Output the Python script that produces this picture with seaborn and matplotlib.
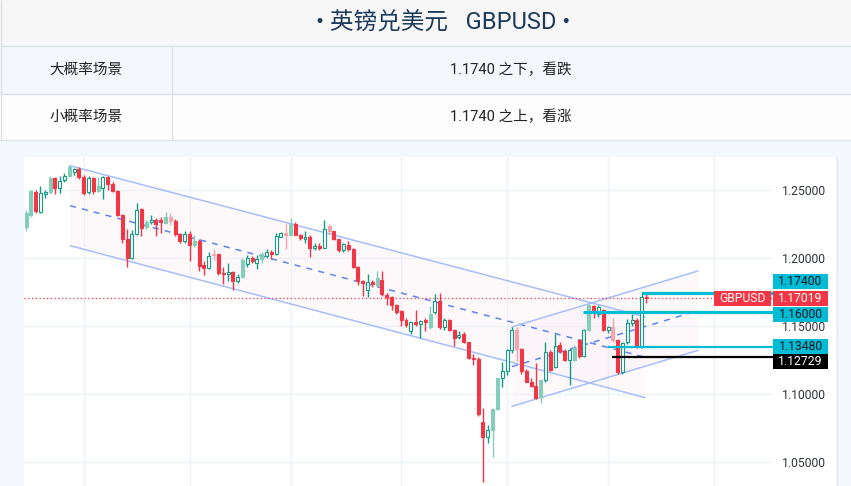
import numpy as np
import pandas as pd
import matplotlib
matplotlib.use("Agg")
import matplotlib.pyplot as plt
import matplotlib.transforms as mtransforms
from matplotlib.patches import Rectangle
import seaborn as sns

# GBPUSD daily candles, weekdays 2022-05-16 .. 2022-11-11
dates = pd.bdate_range("2022-05-16", "2022-11-11")
opens = [1.2225, 1.2315, 1.2485, 1.2335, 1.2465, 1.2480, 1.2585, 1.2515, 1.2570, 1.2600,
         1.2630, 1.2655, 1.2595, 1.2480, 1.2585, 1.2490, 1.2510, 1.2590, 1.2545, 1.2490,
         1.2315, 1.2135, 1.2000, 1.2175, 1.2355, 1.2225, 1.2260, 1.2280, 1.2275, 1.2258,
         1.2300, 1.2270, 1.2175, 1.2125, 1.2175, 1.2095, 1.2125, 1.1945, 1.1925, 1.2030,
         1.2025, 1.1890, 1.1880, 1.1895, 1.1830, 1.1860, 1.1955, 1.1995, 1.1965, 1.1990,
         1.2015, 1.2040, 1.2030, 1.2155, 1.2180, 1.2170, 1.2250, 1.2170, 1.2140, 1.2155,
         1.2070, 1.2085, 1.2075, 1.2235, 1.2195, 1.2135, 1.2055, 1.2095, 1.2065, 1.1935,
         1.1832, 1.1765, 1.1825, 1.1800, 1.1840, 1.1730, 1.1710, 1.1650, 1.1610, 1.1545,
         1.1465, 1.1525, 1.1515, 1.1545, 1.1490, 1.1600, 1.1680, 1.1495, 1.1540, 1.1470,
         1.1415, 1.1440, 1.1380, 1.1265, 1.1255, 1.0795, 1.0685, 1.0735, 1.0890, 1.1115,
         1.1165, 1.1320, 1.1470, 1.1330, 1.1165, 1.1090, 1.1058, 1.0980, 1.1100, 1.1310,
         1.1200, 1.1358, 1.1312, 1.1250, 1.1250, 1.1395, 1.1275, 1.1470, 1.1645, 1.1590,
         1.1620, 1.1470, 1.1495, 1.1395, 1.1160, 1.1380, 1.1520, 1.1545, 1.1348, 1.1715]
highs = [1.2350, 1.2500, 1.2495, 1.2525, 1.2500, 1.2600, 1.2595, 1.2600, 1.2620, 1.2680,
         1.2660, 1.2670, 1.2610, 1.2600, 1.2590, 1.2595, 1.2600, 1.2600, 1.2560, 1.2500,
         1.2320, 1.2210, 1.2205, 1.2405, 1.2365, 1.2280, 1.2315, 1.2290, 1.2300, 1.2335,
         1.2330, 1.2285, 1.2180, 1.2200, 1.2200, 1.2165, 1.2140, 1.1975, 1.2045, 1.2065,
         1.2030, 1.1930, 1.1965, 1.1900, 1.1880, 1.2000, 1.2020, 1.2015, 1.2020, 1.2045,
         1.2065, 1.2060, 1.2180, 1.2190, 1.2245, 1.2295, 1.2260, 1.2175, 1.2200, 1.2165,
         1.2110, 1.2110, 1.2275, 1.2245, 1.2200, 1.2140, 1.2105, 1.2125, 1.2075, 1.1940,
         1.1840, 1.1880, 1.1840, 1.1900, 1.1900, 1.1740, 1.1720, 1.1660, 1.1615, 1.1560,
         1.1530, 1.1615, 1.1545, 1.1560, 1.1645, 1.1735, 1.1740, 1.1560, 1.1550, 1.1480,
         1.1460, 1.1455, 1.1385, 1.1290, 1.1270, 1.0900, 1.0770, 1.0900, 1.1120, 1.1235,
         1.1330, 1.1495, 1.1490, 1.1340, 1.1180, 1.1120, 1.1230, 1.1110, 1.1380, 1.1320,
         1.1440, 1.1380, 1.1330, 1.1340, 1.1360, 1.1400, 1.1480, 1.1660, 1.1655, 1.1650,
         1.1625, 1.1500, 1.1560, 1.1400, 1.1385, 1.1550, 1.1585, 1.1560, 1.1745, 1.1740]
lows = [1.2195, 1.2300, 1.2330, 1.2330, 1.2440, 1.2470, 1.2470, 1.2475, 1.2560, 1.2590,
        1.2610, 1.2580, 1.2460, 1.2470, 1.2470, 1.2480, 1.2430, 1.2500, 1.2480, 1.2305,
        1.2110, 1.1935, 1.1990, 1.2165, 1.2160, 1.2210, 1.2250, 1.2160, 1.2180, 1.2250,
        1.2240, 1.2160, 1.2110, 1.2110, 1.1975, 1.2080, 1.1900, 1.1875, 1.1920, 1.1980,
        1.1870, 1.1805, 1.1830, 1.1760, 1.1815, 1.1850, 1.1935, 1.1960, 1.1915, 1.1960,
        1.2000, 1.1990, 1.2020, 1.2150, 1.2065, 1.2165, 1.2165, 1.2130, 1.2110, 1.2005,
        1.2060, 1.2060, 1.2070, 1.2175, 1.2130, 1.2045, 1.2045, 1.2050, 1.1925, 1.1800,
        1.1720, 1.1715, 1.1785, 1.1785, 1.1720, 1.1650, 1.1620, 1.1590, 1.1500, 1.1490,
        1.1440, 1.1500, 1.1410, 1.1460, 1.1480, 1.1590, 1.1480, 1.1470, 1.1460, 1.1350,
        1.1405, 1.1375, 1.1255, 1.1210, 1.0840, 1.0350, 1.0640, 1.0540, 1.0880, 1.1050,
        1.1140, 1.1300, 1.1240, 1.1150, 1.1085, 1.1050, 1.0960, 1.0930, 1.1090, 1.1165,
        1.1190, 1.1300, 1.1240, 1.1065, 1.1240, 1.1265, 1.1270, 1.1460, 1.1560, 1.1565,
        1.1460, 1.1450, 1.1380, 1.1145, 1.1150, 1.1370, 1.1500, 1.1340, 1.1335, 1.1665]
closes = [1.2330, 1.2490, 1.2340, 1.2475, 1.2485, 1.2585, 1.2515, 1.2565, 1.2600, 1.2665,
          1.2650, 1.2595, 1.2475, 1.2585, 1.2490, 1.2525, 1.2590, 1.2540, 1.2490, 1.2315,
          1.2135, 1.1995, 1.2175, 1.2350, 1.2220, 1.2265, 1.2280, 1.2250, 1.2262, 1.2300,
          1.2270, 1.2175, 1.2125, 1.2175, 1.2095, 1.2125, 1.1940, 1.1925, 1.2015, 1.2020,
          1.1890, 1.1880, 1.1895, 1.1830, 1.1860, 1.1985, 1.1995, 1.1975, 1.1990, 1.2030,
          1.2040, 1.2030, 1.2160, 1.2180, 1.2170, 1.2250, 1.2170, 1.2145, 1.2155, 1.2075,
          1.2085, 1.2075, 1.2210, 1.2195, 1.2135, 1.2055, 1.2100, 1.2065, 1.1935, 1.1830,
          1.1812, 1.1825, 1.1810, 1.1850, 1.1735, 1.1710, 1.1650, 1.1605, 1.1540, 1.1505,
          1.1525, 1.1515, 1.1535, 1.1530, 1.1585, 1.1680, 1.1495, 1.1545, 1.1470, 1.1410,
          1.1435, 1.1385, 1.1265, 1.1255, 1.0855, 1.0685, 1.0735, 1.0890, 1.1115, 1.1165,
          1.1320, 1.1470, 1.1330, 1.1165, 1.1090, 1.1058, 1.0972, 1.1100, 1.1310, 1.1175,
          1.1355, 1.1312, 1.1250, 1.1320, 1.1338, 1.1275, 1.1470, 1.1650, 1.1615, 1.1640,
          1.1470, 1.1495, 1.1395, 1.1160, 1.1375, 1.1520, 1.1545, 1.1348, 1.1715, 1.17019]
# candles drawn in the pale tone
faded = [0, 1, 5, 9, 15, 25, 29, 30, 35, 39, 45, 49, 54, 55, 63, 73, 84, 97, 98,
         102, 107, 114, 117, 122]

# channel drawings: anchor (bar index, price)
desc_x = [9.15, 128.7]
desc_top = [1.2676, 1.1566]
desc_bottom = [1.2089, 1.0973]
asc_x = [101.0, 139.7]
asc_top = [1.1492, 1.1903]
asc_bottom = [1.0909, 1.1320]

# horizontal levels
levels = [1.17400, 1.16000, 1.13480, 1.12729]
level_start = [128, 115.8, 120.9, 121.8]
last_price = closes[-1]
yticks = [1.05, 1.10, 1.15, 1.20, 1.25]

GREEN = "#129c82"
GREEN_L = "#84cdbb"
RED = "#f23645"
RED_L = "#f6a5ae"
CYAN = "#00bcd4"
CH_LINE = "#a6bff8"
CH_MID = "#5d86f2"

sns.set_theme(style="white")
plt.rcParams["font.family"] = ["Roboto", "Noto Sans CJK SC", "DejaVu Sans"]

W, H = 851, 486
fig = plt.figure(figsize=(W / 100, H / 100), dpi=100)
fig.patch.set_facecolor("#f4f7fb")

# ---- page background / header table (pixel coordinates)
bg = fig.add_axes([0, 0, 1, 1], zorder=0)
bg.set_xlim(0, W)
bg.set_ylim(H, 0)
bg.axis("off")
bg.add_patch(Rectangle((0, 0), W, 46, fc="#f7f7f7", ec="none"))
bg.add_patch(Rectangle((0, 46), W, 48, fc="#f4f8fd", ec="none"))
bg.add_patch(Rectangle((0, 94), W, 46, fc="#fdfdfe", ec="none"))
bg.add_patch(Rectangle((24, 157), 812, H - 157, fc="white", ec="none"))
bg.hlines([46, 94, 140], 0, W, color="#dde1e6", lw=1)
bg.vlines(172, 46, 140, color="#dde1e6", lw=1)
bg.vlines([0.5], 0, 140, color="#dde1e6", lw=1)
bg.vlines([836.5], 157, H, color="#e6e9ee", lw=1)
bg.text(443, 23, "• 英镑兑美元   GBPUSD •", ha="center", va="center",
        fontsize=17, color="#1d3b5b")
bg.text(86, 70, "大概率场景", ha="center", va="center", fontsize=10.5, color="#222222")
bg.text(86, 117, "小概率场景", ha="center", va="center", fontsize=10.5, color="#222222")
bg.text(511, 70, "1.1740 之下，看跌", ha="center", va="center", fontsize=10.5, color="#222222")
bg.text(511, 117, "1.1740 之上，看涨", ha="center", va="center", fontsize=10.5, color="#222222")

# ---- price chart
ax = fig.add_axes([24 / W, 0, 749 / W, 329 / H], zorder=1)
ax.set_facecolor("white")
ybot, ytop = 1.0324, 1.2740
ax.set_xlim(-0.42, 155.3)
ax.set_ylim(ybot, ytop)
dpp = (ytop - ybot) / 329.0  # price units per pixel

month_days = pd.bdate_range("2022-05-16", "2022-12-20")
month_idx = [i for i in range(1, len(month_days)) if month_days[i].month != month_days[i - 1].month]
ax.set_xticks(month_idx)
ax.set_yticks(yticks)
ax.grid(True, color="#eef1f6", lw=1)
ax.tick_params(axis="x", labelbottom=False, length=0)
ax.yaxis.tick_right()
ax.tick_params(axis="y", length=0, pad=6.5, labelsize=8.7, labelcolor="#30343c")
ax.set_yticklabels([f"{v:.5f}" for v in yticks])
for s in ax.spines.values():
    s.set_visible(False)

# channel fills and lines
ax.fill_between(desc_x, desc_top, desc_bottom, color="#f7e4ef", alpha=0.2, lw=0, zorder=1)
ax.fill_between(asc_x, asc_top, asc_bottom, color="#f7e4ef", alpha=0.2, lw=0, zorder=1)
for xs, top, bot in [(desc_x, desc_top, desc_bottom), (asc_x, asc_top, asc_bottom)]:
    sns.lineplot(x=xs, y=top, ax=ax, color=CH_LINE, lw=1.1, zorder=2)
    sns.lineplot(x=xs, y=bot, ax=ax, color=CH_LINE, lw=1.1, zorder=2)
    mid = [(a + b) / 2 for a, b in zip(top, bot)]
    ax.plot(xs, mid, color=CH_MID, lw=1.1, ls=(0, (4, 4)), zorder=2)

# last price dotted line
ax.axhline(last_price, color=RED, lw=0.9, ls=(0, (1, 2)), zorder=2)

# candles
df = pd.DataFrame({"date": dates, "o": opens, "h": highs, "l": lows, "c": closes})
x = np.arange(len(df))
up = df["c"].values >= df["o"].values
face = np.where(up, "white", RED).astype(object)
edge = np.where(up, GREEN, RED).astype(object)
for i in faded:
    face[i] = GREEN_L if up[i] else RED_L
    edge[i] = face[i]
ax.vlines(x, df["l"], df["h"], colors=list(edge), lw=1, zorder=3)
body = np.maximum(np.abs(df["c"] - df["o"]).values, dpp * 1.2)
ax.bar(x, body, bottom=np.minimum(df["o"], df["c"]).values, width=0.62,
       color=list(face), edgecolor=list(edge), linewidth=0.8, zorder=4)

# level lines
level_colors = [CYAN, CYAN, CYAN, "black"]
level_widths = [2.3, 2.3, 1.6, 1.6]
for lv, st, col, lw in zip(levels, level_start, level_colors, level_widths):
    ax.hlines(lv, st, 155.3, color=col, lw=lw, zorder=5, clip_on=False)

# right-hand price labels (x in pixels, y in price)
tpx = mtransforms.blended_transform_factory(
    mtransforms.Affine2D().scale(1 / W, 1) + fig.transFigure, ax.transData)
box_values = [1.17400, last_price, 1.16000, 1.13480, 1.12729]
box_texts = ["1.17400", f"{last_price:.5f}", "1.16000", "1.13480", "1.12729"]
box_shift = [-11.4, 0, 2.2, 0, 4.8]
box_face = [CYAN, RED, CYAN, CYAN, "black"]
box_txt = ["#131722", "white", "#131722", "#131722", "white"]
bh = 15 * dpp
for v, t, sh, fc, tc in zip(box_values, box_texts, box_shift, box_face, box_txt):
    yc = v - sh * dpp
    ax.add_patch(Rectangle((773, yc - bh / 2), 55, bh, fc=fc, ec="none",
                           transform=tpx, clip_on=False, zorder=6))
    ax.text(800.5, yc, t, transform=tpx, ha="center", va="center", fontsize=8.7,
            color=tc, clip_on=False, zorder=7)
ax.add_patch(Rectangle((714, last_price - bh / 2), 57, bh, fc=RED, ec="none",
                       transform=tpx, clip_on=False, zorder=6))
ax.text(742.5, last_price, "GBPUSD", transform=tpx, ha="center", va="center",
        fontsize=8.7, color="white", clip_on=False, zorder=7)

fig.savefig("out.png", dpi=100, facecolor=fig.get_facecolor())
